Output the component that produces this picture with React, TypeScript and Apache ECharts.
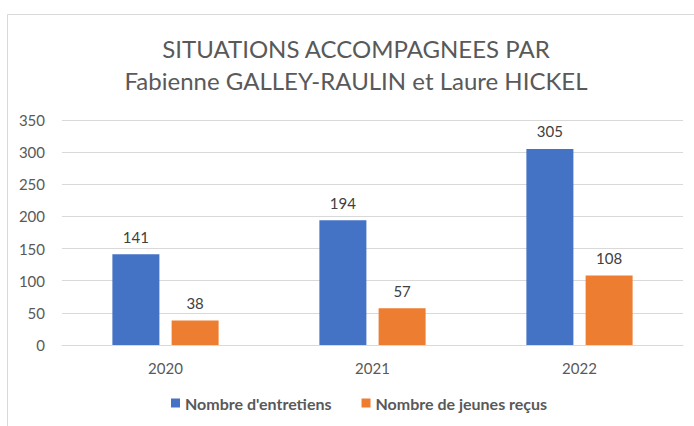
import React, { useEffect, useRef } from "react";
import * as echarts from "echarts";

const categories = ["2020", "2021", "2022"];
const entretiens = [141, 194, 305];
const jeunes = [38, 57, 108];
const seriesNames = ["Nombre d'entretiens", "Nombre de jeunes reçus"];
const titleLines = ["SITUATIONS ACCOMPAGNEES PAR", "Fabienne GALLEY-RAULIN et Laure HICKEL"];

const FONT = "Lato, 'Open Sans', sans-serif";

export default function App() {
  const ref = useRef<HTMLDivElement>(null);
  useEffect(() => {
    if (!ref.current) return;
    const chart = echarts.init(ref.current, null, { renderer: "svg" });
    chart.setOption({
      animation: false,
      backgroundColor: "#ffffff",
      textStyle: { fontFamily: FONT },
      graphic: [
        {
          type: "rect",
          shape: { x: 7.5, y: 14.5, width: 700, height: 420 },
          style: { fill: "none", stroke: "#D9D9D9", lineWidth: 1 },
          silent: true,
        },
      ],
      title: {
        text: titleLines.join("\n"),
        left: 356,
        textAlign: "center",
        top: 32,
        padding: 0,
        textStyle: {
          fontFamily: FONT,
          fontSize: 24,
          fontWeight: "normal",
          color: "#595959",
          lineHeight: 32,
        },
      },
      legend: {
        bottom: 10,
        left: 166,
        itemWidth: 9,
        itemHeight: 9,
        itemGap: 30,
        icon: "rect",
        textStyle: { fontFamily: FONT, fontSize: 16, fontWeight: "bold", color: "#595959" },
        data: seriesNames,
      },
      grid: { left: 62, right: 11, top: 120, bottom: 81, containLabel: false },
      xAxis: {
        type: "category",
        data: categories,
        axisLine: { lineStyle: { color: "#D9D9D9" } },
        axisTick: { show: false },
        axisLabel: { fontFamily: FONT, fontSize: 15, color: "#595959", margin: 15 },
      },
      yAxis: {
        type: "value",
        min: 0,
        max: 350,
        interval: 50,
        axisLine: { show: false },
        axisTick: { show: false },
        splitLine: { lineStyle: { color: "#D9D9D9" } },
        axisLabel: { fontFamily: FONT, fontSize: 15, color: "#595959", margin: 17 },
      },
      series: [
        {
          name: seriesNames[0],
          type: "bar",
          data: entretiens,
          barWidth: 47,
          barGap: "26%",
          itemStyle: { color: "#4472C4" },
          label: { show: true, position: "top", distance: 10, fontFamily: FONT, fontSize: 15, color: "#404040" },
        },
        {
          name: seriesNames[1],
          type: "bar",
          data: jeunes,
          barWidth: 47,
          barGap: "26%",
          itemStyle: { color: "#ED7D31" },
          label: { show: true, position: "top", distance: 10, fontFamily: FONT, fontSize: 15, color: "#404040" },
        },
      ],
    });
    return () => chart.dispose();
  }, []);
  return (
    <div
      ref={ref}
      style={{ position: "fixed", left: 0, top: 0, width: 694, height: 426 }}
    />
  );
}
